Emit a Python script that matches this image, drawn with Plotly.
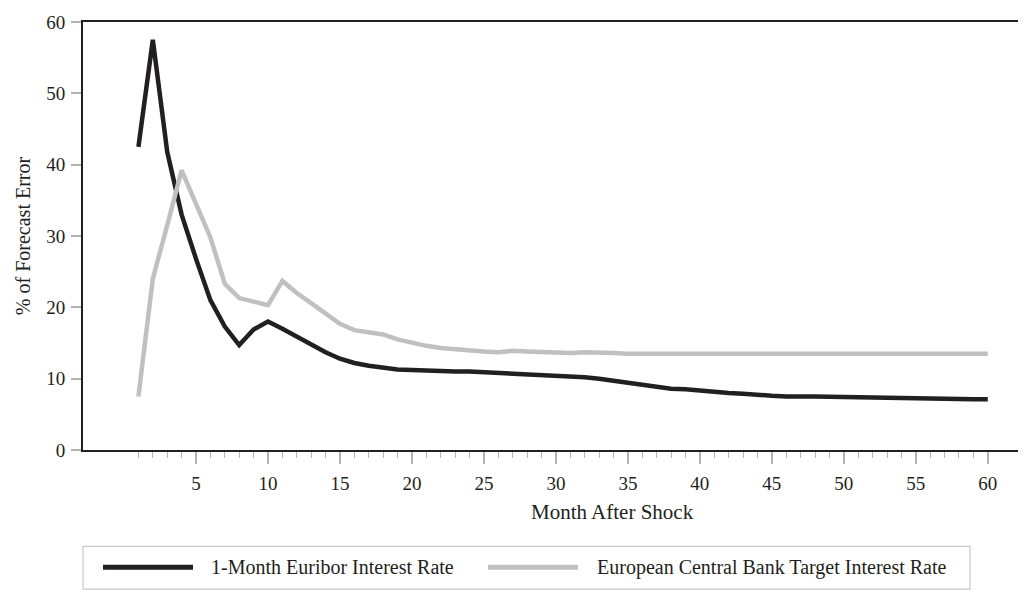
import plotly.graph_objects as go

# Share of forecast error variance, months 1..60 after the shock
months = list(range(1, 61))

euribor = [42.5, 57.5, 41.8, 33.0, 26.8, 21.0, 17.3, 14.7, 16.9, 18.0,
           17.0, 15.9, 14.7, 13.7, 12.8, 12.2, 11.8, 11.5, 11.3, 11.2,
           11.1, 11.1, 11.0, 11.0, 10.9, 10.9, 10.8, 10.7, 10.6, 10.5,
           10.4, 10.2, 10.0, 9.7, 9.4, 9.1, 8.8, 8.6, 8.5, 8.3,
           8.2, 8.0, 7.9, 7.7, 7.6, 7.5, 7.55, 7.5, 7.45, 7.4,
           7.4, 7.35, 7.3, 7.3, 7.25, 7.2, 7.2, 7.15, 7.1, 7.1]

ecb_target = [7.5, 24.0, 31.5, 39.2, 34.5, 29.8, 23.3, 21.3, 20.8, 20.3,
              23.7, 22.0, 20.6, 19.1, 17.7, 16.8, 16.5, 16.2, 15.5, 15.0,
              14.6, 14.3, 14.1, 13.9, 13.8, 13.7, 13.9, 13.8, 13.7, 13.6,
              13.6, 13.7, 13.7, 13.6, 13.5, 13.5, 13.5, 13.55, 13.6, 13.6,
              13.6, 13.6, 13.6, 13.6, 13.6, 13.6, 13.6, 13.6, 13.55, 13.55,
              13.55, 13.55, 13.5, 13.5, 13.5, 13.5, 13.5, 13.5, 13.5, 13.5]

series_names = ["1-Month Euribor Interest Rate",
                "European Central Bank Target Interest Rate"]
series_colors = ["#231f20", "#c0c0c4"]

x_major = list(range(5, 61, 5))
y_ticks = list(range(0, 61, 10))

FONT = "Liberation Serif"
TEXT = "#231f20"
TICK_GREY = "#b4b4b8"

W, H = 1031, 592
M_L, M_R, M_T, M_B = 83, 13, 19, 142
PW, PH = W - M_L - M_R, H - M_T - M_B


def px_x(px):
    """pixel column -> paper x"""
    return (px - M_L) / PW


def px_y(py):
    """pixel row -> paper y"""
    return (H - M_B - py) / PH


fig = go.Figure()
for name, vals, col in zip(series_names, [euribor, ecb_target], series_colors):
    fig.add_trace(go.Scatter(
        x=months, y=vals, mode="lines", name=name,
        line=dict(color=col, width=4.5), showlegend=False,
    ))

# legend frame, line keys and labels
shapes = [dict(type="rect", xref="paper", yref="paper",
               x0=px_x(83), x1=px_x(970), y0=px_y(590), y1=px_y(547),
               line=dict(color="#c8c8c8", width=1.2))]
annotations = []
key_x = [(103, 193, 209), (488, 578, 595)]
for (k0, k1, tx), name, col in zip(key_x, series_names, series_colors):
    shapes.append(dict(type="line", xref="paper", yref="paper",
                       x0=px_x(k0), x1=px_x(k1), y0=px_y(568), y1=px_y(568),
                       line=dict(color=col, width=5)))
    annotations.append(dict(xref="paper", yref="paper", x=px_x(tx), y=px_y(568),
                            xanchor="left", yanchor="middle", showarrow=False,
                            text=name, font=dict(family=FONT, size=20, color=TEXT)))

# x-axis title
annotations.append(dict(xref="paper", yref="paper", x=px_x(612), y=px_y(512),
                        xanchor="center", yanchor="middle", showarrow=False,
                        text="Month After Shock",
                        font=dict(family=FONT, size=21, color=TEXT)))

fig.update_layout(
    width=W, height=H,
    margin=dict(l=M_L, r=M_R, t=M_T, b=M_B),
    paper_bgcolor="white", plot_bgcolor="white",
    font=dict(family=FONT, size=19, color=TEXT),
    showlegend=False,
    shapes=shapes,
    annotations=annotations,
    xaxis=dict(
        range=[-2.85, 62.1],
        tickvals=x_major, ticktext=[str(v) for v in x_major],
        ticks="outside", ticklen=12, tickcolor=TICK_GREY, tickwidth=1.5,
        minor=dict(tickvals=months, ticks="outside", ticklen=6,
                   tickcolor=TICK_GREY, tickwidth=1),
        showline=True, linecolor=TEXT, linewidth=2, mirror=True,
        showgrid=False, zeroline=False,
        tickfont=dict(size=19),
        ticklabelstandoff=3,
    ),
    yaxis=dict(
        range=[0, 60],
        tickvals=y_ticks,
        ticks="outside", ticklen=10, tickcolor=TICK_GREY, tickwidth=1.5,
        showline=True, linecolor=TEXT, linewidth=2,
        showgrid=False, zeroline=False,
        tickfont=dict(size=19),
        ticklabelstandoff=2,
        title=dict(text="% of Forecast Error", font=dict(size=20), standoff=10),
    ),
)

fig.write_html("out.html")
